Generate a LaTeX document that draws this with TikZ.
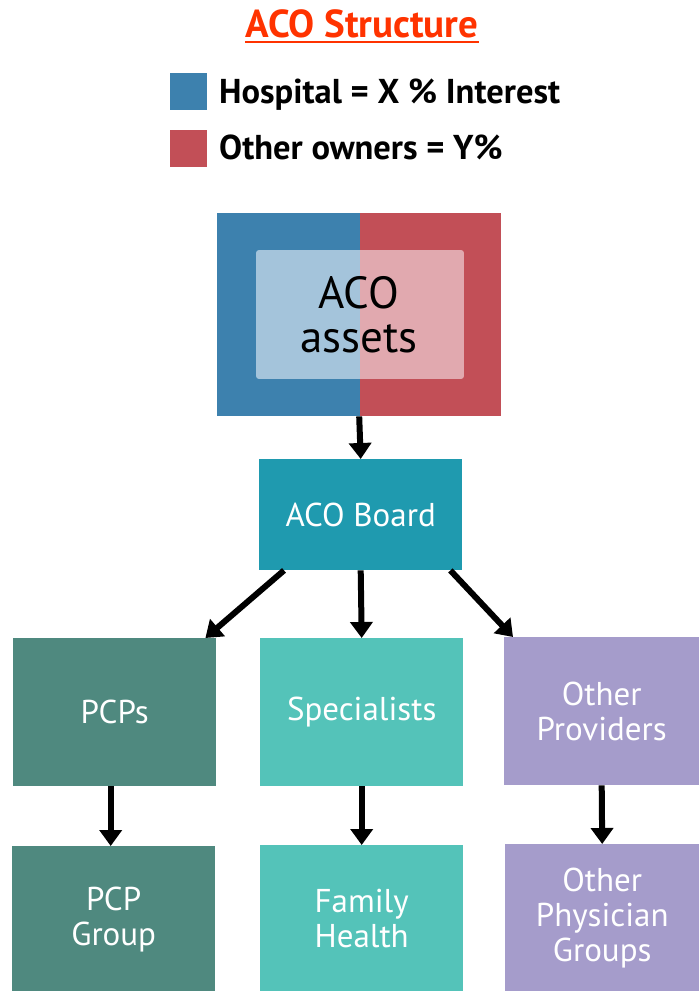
\documentclass[tikz,border=0pt]{standalone}
\usepackage{fontspec}
\setmainfont{PT Sans}
\usetikzlibrary{arrows.meta,calc}
\definecolor{titlered}{HTML}{FF3300}
\definecolor{hospblue}{HTML}{3D81AE}
\definecolor{ownred}{HTML}{C24F57}
\definecolor{innerblue}{HTML}{A4C4DB}
\definecolor{innerred}{HTML}{E1A9AF}
\definecolor{boardc}{HTML}{1F9AAF}
\definecolor{pcpc}{HTML}{4F897F}
\definecolor{specc}{HTML}{54C3B9}
\definecolor{othc}{HTML}{A59CCB}
\tikzset{
  box/.style={anchor=north west, inner sep=0pt, text=white, align=center,
    font=\fontsize{33}{35}\selectfont},
  arr/.style={line width=6pt, -{Triangle[width=22pt,length=16pt]}},
  legsq/.style={anchor=north west, inner sep=0pt, minimum size=37pt},
  legtxt/.style={anchor=base west, inner sep=0pt, font=\fontsize{34.5}{38}\selectfont\bfseries}
}
\begin{document}
\begin{tikzpicture}[x=1pt,y=-1pt]
\useasboundingbox (0,0) rectangle (699,991);
% title
\node[anchor=base, inner sep=0pt, text=titlered, font=\fontsize{39}{42}\selectfont\bfseries] (title) at (362,37) {ACO Structure};
\draw[titlered, line width=2.5pt] ([yshift=-5pt]title.base west) -- ([yshift=-5pt]title.base east);
% legend
\node[legsq, fill=hospblue] (lsq1) at (170,73) {};
\node[legtxt] (ltx1) at (219,103) {Hospital = X \% Interest};
\node[legsq, fill=ownred] (lsq2) at (170,130) {};
\node[legtxt] (ltx2) at (219,159) {Other owners = Y\%};
% ACO assets
\fill[hospblue] (217,213) rectangle (360,416);
\fill[ownred] (360,213) rectangle (501,416);
\begin{scope}
\clip[rounded corners=3pt] (256,250) rectangle (464,379);
\fill[innerblue] (256,250) rectangle (360,379);
\fill[innerred] (360,250) rectangle (464,379);
\end{scope}
\node[anchor=north west, inner sep=0pt, minimum width=284pt, minimum height=203pt] (assets) at (217,213) {};
\node[align=center, inner sep=0pt, font=\fontsize{45}{44}\selectfont] (assetstxt) at (359,315) {ACO\\assets};
% board
\node[box, fill=boardc, minimum width=203pt, minimum height=111pt] (board) at (259,459) {ACO Board};
% row 2
\node[box, fill=pcpc, minimum width=203pt, minimum height=148pt] (pcps) at (13,638) {PCPs};
\node[box, fill=specc, minimum width=203pt, minimum height=148pt] (spec) at (260,638) {Specialists};
\node[box, fill=othc, minimum width=195pt, minimum height=148pt] (oprov) at (504,637) {Other\\Providers};
% row 3
\node[box, fill=pcpc, minimum width=203pt, minimum height=146pt] (pcpg) at (12,846) {PCP\\Group};
\node[box, fill=specc, minimum width=203pt, minimum height=146pt] (fam) at (260,845) {Family\\Health};
\node[box, fill=othc, minimum width=194pt, minimum height=147pt] (ophys) at (505,844) {Other\\Physician\\Groups};
% arrows
\draw[arr] (assets.south) -- (board.north);
\draw[arr] ([xshift=25pt]board.south west) -- ([xshift=-11pt]pcps.north east);
\draw[arr] (board.south) -- (spec.north);
\draw[arr] ([xshift=-12pt]board.south east) -- ([xshift=9pt]oprov.north west);
\draw[arr] ([xshift=-4pt]pcps.south) -- ([xshift=-3pt]pcpg.north);
\draw[arr] (spec.south) -- (fam.north);
\draw[arr] (oprov.south) -- (ophys.north);
\end{tikzpicture}
\end{document}
